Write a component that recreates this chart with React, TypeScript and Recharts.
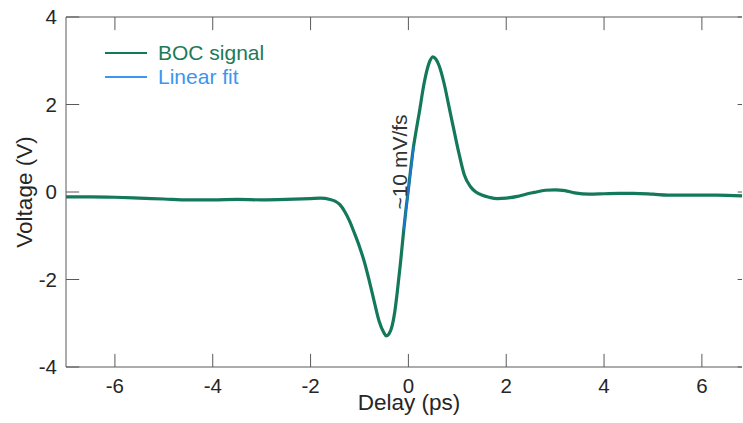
import { Line, LineChart, XAxis, YAxis } from "recharts";

const delay = [
  -7.0, -6.5, -6.0, -5.5, -5.0, -4.5, -4.0, -3.5, -3.0, -2.5, -2.0, -1.8, -1.6,
  -1.5, -1.4, -1.3, -1.2, -1.1, -1.0, -0.9, -0.8, -0.7, -0.6, -0.5, -0.45,
  -0.4, -0.33, -0.28, -0.23, -0.16, -0.1, -0.05, 0.0, 0.05, 0.1, 0.15, 0.22,
  0.32, 0.42, 0.5, 0.56, 0.63, 0.73, 0.83, 0.93, 1.03, 1.14, 1.27, 1.38, 1.5,
  1.65, 1.82, 2.0, 2.23, 2.4, 2.57, 2.8, 3.0, 3.2, 3.4, 3.7, 4.0, 4.3, 4.6,
  5.0, 5.3, 5.8, 6.3, 6.82,
];
const bocSignal = [
  -0.11, -0.11, -0.12, -0.14, -0.16, -0.18, -0.18, -0.17, -0.18, -0.17, -0.15,
  -0.14, -0.17, -0.21, -0.29, -0.45, -0.67, -0.95, -1.25, -1.6, -2.03, -2.5,
  -2.95, -3.22, -3.29, -3.25, -3.05, -2.75, -2.31, -1.6, -0.92, -0.4, 0.07,
  0.55, 1.0, 1.35, 1.8, 2.48, 2.94, 3.09, 3.04, 2.88, 2.48, 1.95, 1.42, 0.9,
  0.4, 0.12, 0.0, -0.07, -0.12, -0.15, -0.14, -0.1, -0.05, -0.01, 0.04, 0.05,
  0.03, -0.02, -0.05, -0.04, -0.03, -0.03, -0.05, -0.07, -0.07, -0.07, -0.09,
];

// linear fit around zero delay
const fitDelay = [-0.1, 0.11];
const fitValues = [-0.88, 1.05];

const xTicks = [-6, -4, -2, 0, 2, 4, 6];
const yTicks = [-4, -2, 0, 2, 4];
// the right edge of the frame is cut off in the figure
const xRange = [-7, 6.82];
const yRange = [-4, 4];

const legendItems = ["BOC signal", "Linear fit"];

const signalData = delay.map((x, i) => ({ x, y: bocSignal[i] }));
const fitData = fitDelay.map((x, i) => ({ x, y: fitValues[i] }));

const GREEN = "#14785a";
const BLUE = "#1a78d4";
const AXIS = "#5a5a5a";
const TEXT = "#262626";
const FONT = "'Liberation Sans', Arial, sans-serif";
const tickFont = { fill: TEXT, fontSize: 20.5, fontFamily: FONT };
// inward tick length (~13px) in data units
const TICK_DX = 0.27;
const TICK_DY = 0.3;

// box frame + inward ticks, built from the tick lists
const [xMin, xMax] = xRange;
const [yMin, yMax] = yRange;
const frameSegments = [
  [{ x: xMin, y: yMax }, { x: xMax, y: yMax }],
  ...xTicks.map((t) => [{ x: t, y: yMin }, { x: t, y: yMin + TICK_DY }]),
  ...xTicks.map((t) => [{ x: t, y: yMax }, { x: t, y: yMax - TICK_DY }]),
  ...yTicks.map((t) => [{ x: xMin, y: t }, { x: xMin + TICK_DX, y: t }]),
  ...yTicks.map((t) => [{ x: xMax - 0.09, y: t }, { x: xMax, y: t }]),
];

export default function App() {
  return (
    <div style={{ position: "absolute", left: 0, top: 0, width: 743, height: 423, background: "#fff" }}>
      <LineChart width={743} height={423} margin={{ top: 17, right: 1, left: 0, bottom: 0 }}>
        <XAxis
          xAxisId="b"
          type="number"
          dataKey="x"
          domain={xRange}
          ticks={xTicks}
          height={56}
          stroke={AXIS}
          tickLine={false}
          tickSize={0}
          tickMargin={11}
          tick={tickFont}
          label={{ value: "Delay (ps)", position: "insideBottom", offset: 13, dx: 5, fill: TEXT, fontSize: 22.5, fontFamily: FONT }}
        />
        <YAxis
          yAxisId="l"
          type="number"
          domain={yRange}
          ticks={yTicks}
          width={66}
          stroke={AXIS}
          tickLine={false}
          tickSize={0}
          tickMargin={9}
          tick={tickFont}
          label={{ value: "Voltage (V)", position: "center", angle: -90, dx: -9, fill: TEXT, fontSize: 22.5, fontFamily: FONT }}
        />
        {frameSegments.map((seg, i) => (
          <Line
            key={`frame${i}`}
            xAxisId="b"
            yAxisId="l"
            data={seg}
            dataKey="y"
            type="linear"
            stroke={AXIS}
            strokeWidth={1}
            dot={false}
            activeDot={false}
            legendType="none"
            isAnimationActive={false}
          />
        ))}
        <Line
          xAxisId="b"
          yAxisId="l"
          name="BOC signal"
          data={signalData}
          dataKey="y"
          type="monotone"
          stroke={GREEN}
          strokeWidth={3.2}
          dot={false}
          isAnimationActive={false}
        />
        <Line
          xAxisId="b"
          yAxisId="l"
          name="Linear fit"
          data={fitData}
          dataKey="y"
          type="linear"
          stroke={BLUE}
          strokeWidth={2}
          dot={false}
          isAnimationActive={false}
        />
      </LineChart>
      {/* legend */}
      <div style={{ position: "absolute", left: 105, top: 41, fontFamily: FONT, fontSize: 21 }}>
        {legendItems.map((name, i) => (
          <div key={name} style={{ display: "flex", alignItems: "center", height: 24 }}>
            <span style={{ display: "inline-block", width: 42, height: 2, background: i === 0 ? GREEN : "#3a96ee", marginRight: 11 }} />
            <span style={{ color: i === 0 ? "#1d7a58" : "#3a96ee" }}>{name}</span>
          </div>
        ))}
      </div>
      {/* slope annotation */}
      <div
        style={{
          position: "absolute",
          left: 399,
          top: 162,
          transform: "translate(-50%, -50%) rotate(-90deg)",
          whiteSpace: "nowrap",
          fontFamily: FONT,
          fontSize: 21,
          color: "#333333",
          lineHeight: 1,
        }}
      >
        ~10 mV/fs
      </div>
    </div>
  );
}
